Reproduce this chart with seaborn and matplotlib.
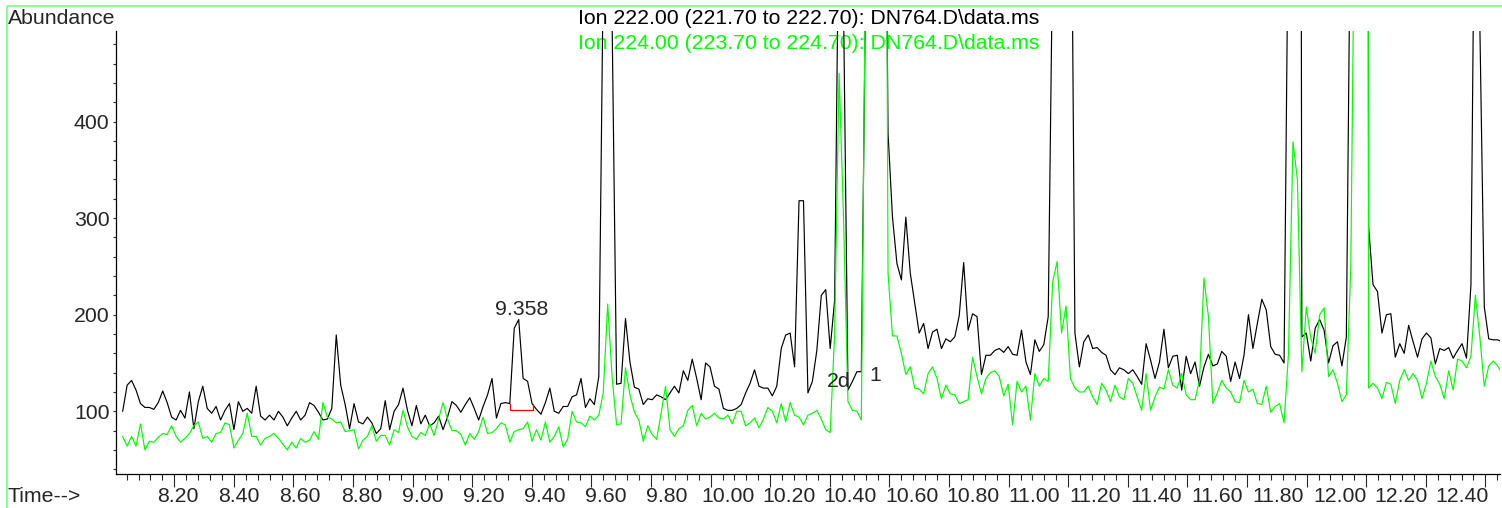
import numpy as np
import pandas as pd
import seaborn as sns
import matplotlib.pyplot as plt
from matplotlib.lines import Line2D
from matplotlib.transforms import blended_transform_factory

# scan grid of the SIM run (min)
scan_start = 8.0268
scan_step = 0.014933

# Ion 222.00 abundance per scan (values above ~494 are off-scale in the view)
ion222 = [
    100, 127, 132, 122, 108, 104, 104, 102, 109, 121, 109, 94, 91, 101, 93,
    120, 82, 110, 126, 103, 98, 105, 91, 101, 108, 81, 110, 100, 103,
    98, 126, 95, 91, 96, 91, 100, 94, 85, 93, 100, 91, 96, 109, 106,
    99, 91, 92, 103, 179, 127, 107, 82, 108, 89, 87, 94, 88, 77, 82,
    111, 81, 100, 107, 124, 101, 85, 106, 87, 96, 85, 88, 95, 81, 94,
    110, 106, 99, 107, 114, 103, 91, 105, 117, 134, 93, 108, 109, 108, 186, 195,
    134, 131, 108, 102, 97, 109, 124, 100, 98, 105, 105, 115, 117, 134, 104,
    113, 107, 136, 556, 3000, 500, 128, 129, 196, 151, 125, 123, 107, 113, 112,
    117, 115, 112, 119, 126, 119, 142, 132, 154, 134, 112, 150, 146, 126, 123,
    103, 101, 101, 103,
    107, 119, 129, 143, 126, 124, 124, 116, 126, 165, 179, 181, 146, 318, 318,
    119, 131, 163, 220, 226, 165, 215, 650, 520, 122, 131, 141, 141, 560, 4000,
    6000, 4000, 950,
    388, 301, 253, 236, 301, 243, 212, 181, 191, 165, 182, 185, 165, 175, 172,
    177, 199, 254, 184, 201, 198, 138, 158, 158, 163, 165, 161, 167, 159, 158, 184,
    151, 138, 174, 162, 169, 198, 580, 5000, 5000, 3000, 790, 181, 146, 172, 179,
    165, 166, 161, 158, 143, 138, 145, 143, 139, 143, 136, 128, 170, 153, 134,
    151, 185, 145, 157,
    158, 122, 157, 139, 151, 126, 146, 159, 147, 149, 162, 157, 131, 151, 134,
    158, 200, 165, 191, 216, 205, 167, 159, 158, 150, 640, 3000, 3000, 177, 181,
    152, 186,
    195, 184, 150, 168, 172, 147, 177, 663, 5000, 8000, 5000, 291, 231, 224, 181,
    200, 201, 156, 170, 160, 189, 172, 156, 175, 181, 176, 149, 165, 163, 166,
    155, 163, 170, 155, 231, 755, 500, 208, 175, 174, 174, 172,
]

# Ion 224.00 abundance per scan
ion224 = [
    74, 64, 74, 64, 87, 60, 69, 68, 73, 77, 76, 85, 74, 68, 72,
    77, 85, 89, 72, 74, 68, 77, 78, 88, 86, 62, 70, 77, 98,
    74, 74, 65, 72, 74, 77, 72, 66, 60, 68, 62, 72, 68, 70, 79,
    71, 109, 94, 92, 88, 89, 79, 80, 81, 61, 70, 74, 85, 69, 75,
    75, 65, 81, 78, 101, 84, 74, 71, 78, 75, 87, 75, 92, 109, 92,
    80, 80, 76, 65, 77, 71, 79, 94, 77, 78, 82, 88, 86, 68, 79, 81,
    82, 89, 69, 81, 70, 89, 68, 74, 84, 63, 71, 100, 89, 88, 84,
    95, 91, 96, 119, 211, 135, 86, 87, 145, 117, 99, 91, 69, 85, 76,
    71, 98, 126, 81, 74, 82, 85, 101, 106, 85, 98, 92, 94, 98, 93,
    92, 96, 87, 100,
    100, 85, 88, 93, 83, 92, 104, 100, 88, 108, 89, 109, 96, 94, 86,
    96, 98, 101, 92, 81, 78, 180, 450, 300, 110, 101, 100, 91, 600, 2000,
    3000, 3000, 1400,
    243, 178, 178, 160, 138, 146, 124, 123, 118, 139, 146, 134, 113, 127, 118,
    117, 108, 110, 112, 156, 136, 118, 134, 140, 142, 136, 116, 128, 86, 131, 120,
    126, 91, 139, 126, 134, 131, 234, 255, 181, 209, 134, 124, 120, 120, 126,
    115, 107, 129, 122, 110, 127, 115, 112, 134, 129, 115, 101, 139, 101, 115,
    125, 123, 143, 127,
    124, 139, 117, 112, 112, 132, 238, 198, 108, 119, 132, 124, 120, 110, 109,
    132, 120, 123, 108, 107, 126, 99, 105, 108, 88, 160, 379, 340, 141, 208,
    176, 160,
    200, 207, 136, 143, 129, 110, 117, 250, 700, 4000, 6000, 124, 129, 124, 113,
    130, 128, 108, 132, 143, 132, 139, 132, 113, 129, 152, 136, 128, 113, 142,
    122, 154, 152, 145, 157, 220, 177, 126, 147, 152, 147, 139,
]

ion_names = ["Ion 222.00 (221.70 to 222.70): DN764.D\\data.ms",
             "Ion 224.00 (223.70 to 224.70): DN764.D\\data.ms"]
ion_colors = ["#000000", "#00ff00"]

# integrated peak at 9.358 (start, end, baseline, drop-line tops)
integ_start, integ_end = 9.3265, 9.4027
integ_base = 101.4
integ_top = 107.6

# other peak labels (retention time, label height)
peak_names = ["2d", "1"]
peak_times = [10.4305, 10.553]
peak_heights = [125.5, 131.7]

times = scan_start + scan_step * np.arange(len(ion222))
df = pd.concat([
    pd.DataFrame({"time": times, "abundance": ion222, "ion": ion_names[0]}),
    pd.DataFrame({"time": times, "abundance": ion224, "ion": ion_names[1]}),
])

sns.set_style("ticks")
plt.rcParams['font.family'] = ['Liberation Sans', 'DejaVu Sans']
fs = 15.3

W, H = 1502, 508
fig = plt.figure(figsize=(W / 100, H / 100), dpi=100)
ax_l, ax_r, ax_t, ax_b = 116, 1500, 30.7, 474
ax = fig.add_axes([ax_l / W, 1 - ax_b / H, (ax_r - ax_l) / W, (ax_b - ax_t) / H])
ax.set_facecolor("white")

sns.lineplot(data=df, x="time", y="abundance", hue="ion", hue_order=ion_names,
             palette=dict(zip(ion_names, ion_colors)), estimator=None, sort=False,
             linewidth=0.85, legend=False, ax=ax, zorder=3)

ax.plot([integ_start, integ_start, integ_end, integ_end],
        [integ_top, integ_base, integ_base, integ_top], color="#ff0000", lw=0.9, zorder=4)

# apex label of the integrated peak
apex_i = int(np.argmin(np.abs(times - 9.358)))
ax.annotate("9.358", xy=(times[apex_i], ion222[apex_i]), xytext=(3, 5),
            textcoords="offset pixels", ha="center", va="baseline", fontsize=fs)
for name, t, h in zip(peak_names, peak_times, peak_heights):
    ax.text(t, h, name, ha="center", va="baseline", fontsize=fs, zorder=5)

ax.set_xlim(8.0044, 12.649)
ax.set_ylim(35.1, 494)
sns.despine(ax=ax)
for s in ["left", "bottom"]:
    ax.spines[s].set_linewidth(0.9)
    ax.spines[s].set_color("black")

ax.set_yticks([100, 200, 300, 400])
ax.set_yticks(np.arange(40, 481, 20), minor=True)
ax.tick_params(axis="y", which="both", direction="out", length=2.2, width=0.8,
               labelsize=fs, pad=2.5)

ax.set_xticks(np.arange(8.2, 12.61, 0.2))
ax.set_xticks(np.arange(8.04, 12.65, 0.04), minor=True)
ax.tick_params(axis="x", which="major", direction="out", length=9, width=0.8, labelbottom=False)
ax.tick_params(axis="x", which="minor", direction="out", length=4.3, width=0.8)
ax.set_xlabel("")
ax.set_ylabel("")

# time labels (printed on the instrument's own label spacing)
tick_vals = np.arange(8.2, 12.41, 0.2)
label_pos = 8.2124 + (tick_vals - 8.2) * 1.0258
trans = blended_transform_factory(ax.transData, ax.transAxes)
for v, p in zip(tick_vals, label_pos):
    ax.text(p, -(497 - ax_b) / (ax_b - ax_t), f"{v:.2f}", transform=trans,
            ha="center", va="center", fontsize=fs, clip_on=False)

ax.text(8 / W, 1 - 18.3 / H, "Abundance", transform=fig.transFigure,
        ha="left", va="center", fontsize=fs)
ax.text(8 / W, 1 - 496.7 / H, "Time-->", transform=fig.transFigure,
        ha="left", va="center", fontsize=fs)
ax.text(577.5 / W, 1 - 18.3 / H, ion_names[0], transform=fig.transFigure,
        ha="left", va="center", fontsize=fs, color=ion_colors[0], zorder=1)
ax.text(577.5 / W, 1 - 43.3 / H, ion_names[1], transform=fig.transFigure,
        ha="left", va="center", fontsize=fs, color=ion_colors[1], zorder=1)

frame = Line2D([7.3 / W, 7.3 / W, 1], [0, 1 - 5.7 / H, 1 - 5.7 / H],
               transform=fig.transFigure, color="#80ff80", lw=1.3)
fig.add_artist(frame)

fig.savefig("out.png", dpi=100)
